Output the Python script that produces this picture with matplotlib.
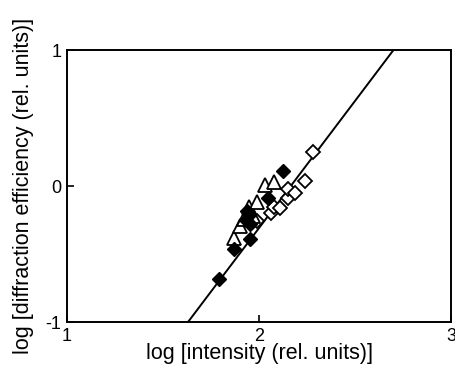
import matplotlib
matplotlib.use("Agg")
import matplotlib.pyplot as plt
import numpy as np

plt.rcParams['font.family'] = ['Liberation Sans', 'DejaVu Sans']

# data
filled_x = [1.79, 1.87, 1.955, 1.93, 1.95, 1.94, 1.955, 2.045, 2.125]
filled_y = [-0.68, -0.46, -0.39, -0.25, -0.21, -0.18, -0.28, -0.09, 0.11]
tri_x = [1.87, 1.90, 1.92, 1.95, 1.99, 2.03, 2.08, 1.97]
tri_y = [-0.38, -0.29, -0.24, -0.15, -0.12, 0.01, 0.03, -0.22]
open_x = [1.99, 2.06, 2.08, 2.11, 2.15, 2.15, 2.19, 2.24, 2.28]
open_y = [-0.26, -0.20, -0.15, -0.16, -0.09, -0.02, -0.05, 0.04, 0.25]
fit_x = [1.63, 2.70]
fit_y = [-1.0, 1.0]

xticks = [1, 2, 3]
yticks = [-1, 0, 1]

fig = plt.figure(figsize=(4.56, 3.66), dpi=100)
ax = fig.add_axes([0.147, 0.120, 0.842, 0.743])

ax.plot(fit_x, fit_y, color='black', lw=1.4, zorder=1)
ax.plot(open_x, open_y, 'D', ms=7.5, mfc='white', mec='black', mew=1.3, ls='none', zorder=2)
ax.plot(tri_x, tri_y, '^', ms=9.5, mfc='white', mec='black', mew=1.3, ls='none', zorder=3)
ax.plot(filled_x, filled_y, 'D', ms=7.5, mfc='black', mec='black', ls='none', zorder=4)

ax.set_xlim(1, 3)
ax.set_ylim(-1, 1)
ax.set_xticks(xticks)
ax.set_yticks(yticks)
ax.set_xticklabels([str(t) for t in xticks])
ax.set_yticklabels([str(t) for t in yticks])
ax.tick_params(direction='in', length=5, width=1.2, labelsize=13)
ax.tick_params(axis='x', pad=4)
ax.tick_params(axis='y', pad=4)
for s in ax.spines.values():
    s.set_linewidth(1.4)

ax.set_xlabel('log [intensity (rel. units)]', fontsize=15.5, labelpad=-1)
ax.set_ylabel('log [diffraction efficiency (rel. units)]', fontsize=15.5, labelpad=8)

fig.savefig('out.png', dpi=100)
